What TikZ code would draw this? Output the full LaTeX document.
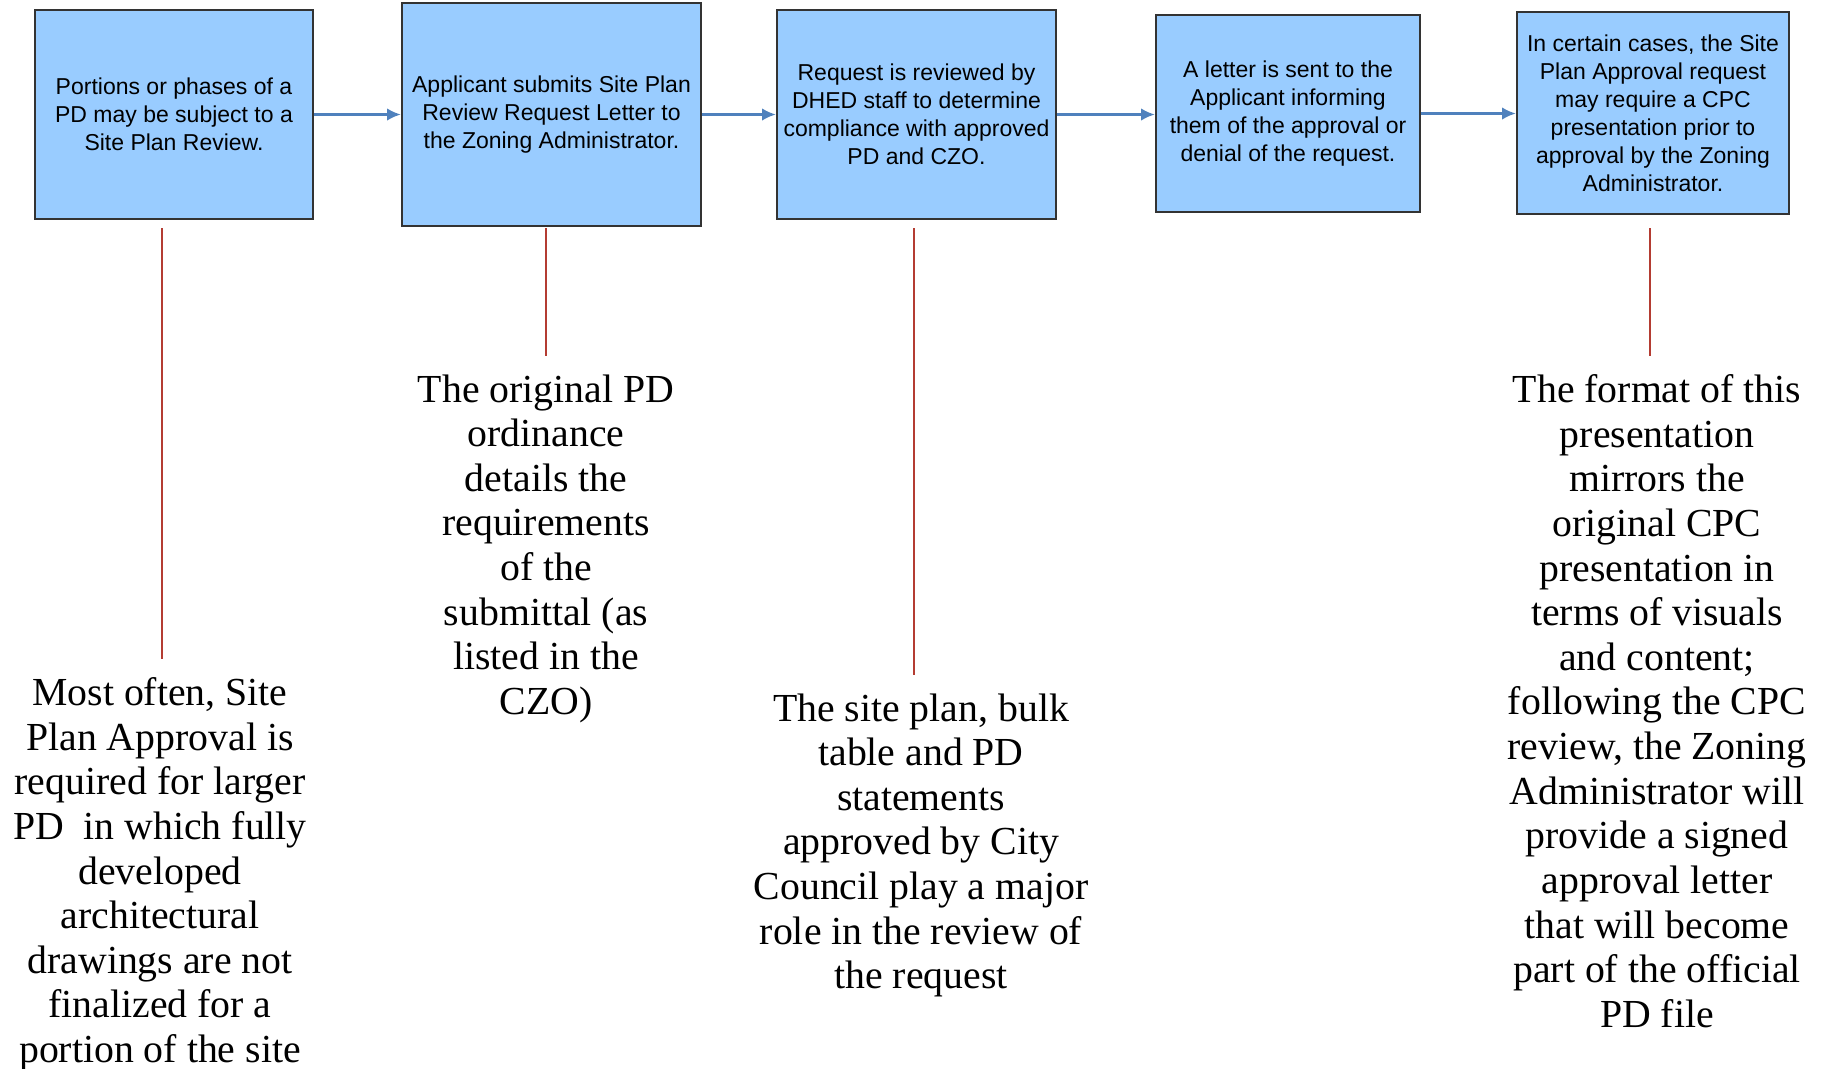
\documentclass[tikz,border=0pt]{standalone}
\usepackage{fontspec}
\setmainfont{Liberation Serif}
\newfontfamily\boxfont{Liberation Sans}
\usetikzlibrary{arrows.meta,positioning}
\definecolor{boxblue}{RGB}{153,204,255}
\definecolor{flowblue}{RGB}{79,129,189}
\definecolor{notered}{RGB}{180,60,50}
\begin{document}
\begin{tikzpicture}[>={Latex[length=5.5pt,width=5pt]},x=0.4pt,y=-0.4pt]
\tikzstyle{s}=[draw=black!80,line width=0.9pt,fill=boxblue,inner sep=0pt,align=center,font=\boxfont\fontsize{9.2}{11.2}\selectfont]
\tikzstyle{n}=[anchor=north,inner sep=0pt,align=center,font=\fontsize{15.9}{17.85}\selectfont]
\tikzstyle{f}=[->,flowblue,line width=1pt]
\tikzstyle{r}=[notered,line width=0.5pt,shorten >=7.2pt]
\useasboundingbox (0,0) rectangle (1824,1068);
\node[s,minimum width=111.2pt,minimum height=83.6pt] (b1) at (174,114.5) {Portions or phases of a\\PD may be subject to a\\Site Plan Review.};
\node[s,minimum width=119.6pt,minimum height=89.2pt] (b2) at (551.5,114.5) {Applicant submits Site Plan\\Review Request Letter to\\the Zoning Administrator.};
\node[s,minimum width=111.6pt,minimum height=83.6pt] (b3) at (916.5,114.5) {Request is reviewed by\\DHED staff to determine\\compliance with approved\\PD and CZO.};
\node[s,minimum width=105.6pt,minimum height=78.8pt] (b4) at (1288,113.5) {A letter is sent to the\\Applicant informing\\them of the approval or\\denial of the request.};
\node[s,minimum width=108.8pt,minimum height=80.8pt] (b5) at (1653,113) {In certain cases, the Site\\Plan Approval request\\may require a CPC\\presentation prior to\\approval by the Zoning\\Administrator.};
\foreach \a/\b in {b1/b2,b2/b3,b3/b4,b4/b5} \draw[f] (\a.east) -- (\a.east -| \b.west);
\node[n] (n1) at (160,677) {Most often, Site\\Plan Approval is\\required for larger\\PD\ \ in which fully\\developed\\architectural\\drawings are not\\finalized for a\\portion of the site};
\node[n] (n2) at (546,374) {The original PD\\ordinance\\details the\\requirements\\of the\\submittal (as\\listed in the\\CZO)};
\node[n] (n3) at (921,693) {The site plan, bulk\\table and PD\\statements\\approved by City\\Council play a major\\role in the review of\\the request};
\node[n] (n5) at (1657,374) {The format of this\\presentation\\mirrors the\\original CPC\\presentation in\\terms of visuals\\and content;\\following the CPC\\review, the Zoning\\Administrator will\\provide a signed\\approval letter\\that will become\\part of the official\\PD file};
\coordinate (top) at (0,228);
\foreach \i/\dx in {1/2,2/0,3/-7,5/-7} \draw[r] ([xshift=\dx*0.4pt]n\i.north |- top) -- ([xshift=\dx*0.4pt]n\i.north);
\end{tikzpicture}
\end{document}
